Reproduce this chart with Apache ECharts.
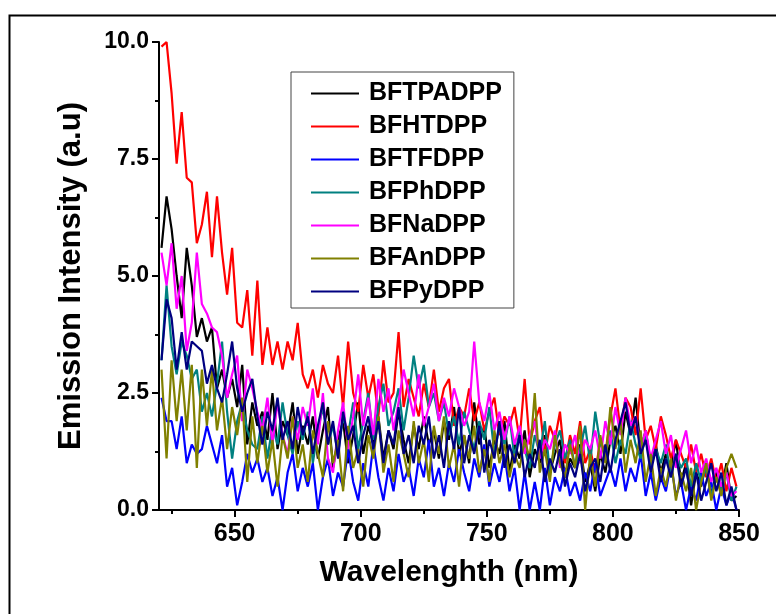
<!DOCTYPE html>
<html>
<head>
<meta charset="utf-8">
<script src="https://cdn.jsdelivr.net/npm/echarts@6/dist/echarts.min.js"></script>
<style>
  html, body { margin: 0; padding: 0; background: #fff; }
  #chart { width: 776px; height: 614px; }
</style>
</head>
<body>
<div id="chart"></div>
<script>
// wavelength grid, 2 nm steps from 621 to 849
var wavelength = [];
for (var w = 621; w <= 849; w += 2) wavelength.push(w);

var names = ['BFTPADPP', 'BFHTDPP', 'BFTFDPP', 'BFPhDPP', 'BFNaDPP', 'BFAnDPP', 'BFPyDPP'];
var colors = ['#000000', '#ff0000', '#0000ff', '#008080', '#ff00ff', '#808000', '#000080'];

var xMajor = [650, 700, 750, 800, 850];
var xMinor = [625, 675, 725, 775, 825];

var bftpadpp = [
  5.6, 6.7, 6.0, 5.0, 4.1, 5.6, 4.8, 3.7, 4.1, 3.6,
  3.9, 2.6, 3.0, 2.4, 2.8, 2.2, 3.1, 1.4, 2.3, 1.8,
  2.1, 1.5, 2.5, 1.3, 1.9, 1.6, 2.3, 1.2, 1.8, 1.4,
  2.0, 1.1, 1.7, 2.2, 0.9, 1.5, 1.9, 1.0, 1.6, 2.3,
  1.2, 1.8, 1.4, 2.0, 1.1, 1.7, 1.3, 2.1, 1.5, 1.0,
  1.8, 1.3, 2.0, 1.4, 1.7, 1.1, 1.9, 1.5, 2.2, 1.2,
  1.6, 1.0, 2.3, 1.4, 1.8, 0.9, 1.5, 1.2, 1.9, 0.8,
  1.4, 1.1, 1.7, 0.7, 1.3, 1.0, 1.6, 0.8, 1.2, 1.5,
  0.7, 1.1, 0.9, 1.4, 0.6, 1.0, 0.4, 1.2, 0.8, 1.5,
  1.8, 1.2, 2.1, 1.6, 2.4, 1.3, 1.7, 1.0, 1.4, 0.8,
  1.2, 0.9, 1.5, 0.6, 1.0, 0.1, 0.8, 0.5, 1.0, 0.3,
  0.8, 0.4, 1.0, 0.2, 0.3
];
var bfhtdpp = [
  9.9, 10.0, 8.9, 7.4, 8.5, 7.1, 7.0, 5.7, 6.1, 6.8,
  5.4, 6.7, 5.5, 4.6, 5.6, 4.0, 3.9, 4.7, 3.3, 4.9,
  3.1, 3.9, 3.1, 3.6, 3.0, 3.6, 3.2, 4.0, 2.9, 2.6,
  3.0, 2.4, 3.1, 2.7, 2.5, 3.3, 2.2, 3.6, 2.5, 2.1,
  3.1, 2.4, 2.9, 2.0, 3.2, 2.3, 2.5, 3.8, 2.2, 2.8,
  2.4, 2.0, 2.7, 2.2, 3.0, 2.1, 2.6, 2.8, 1.8, 2.2,
  2.0, 2.6, 1.9, 2.3, 1.7, 2.1, 2.4, 1.6, 2.0, 1.8,
  2.2, 1.5, 2.8, 1.4, 1.9, 2.2, 1.2, 1.8, 1.5, 2.1,
  1.0, 1.6, 1.2, 1.9, 1.0, 1.3, 0.8, 1.5, 1.2, 2.0,
  2.6, 1.7, 2.4, 2.2, 1.6, 2.6, 1.5, 1.8, 1.3, 2.0,
  1.6, 1.1, 1.5, 1.2, 0.9, 1.4, 0.8, 1.2, 0.7, 1.1,
  0.6, 1.0, 0.4, 0.9, 0.5
];
var bftfdpp = [
  2.4, 1.9, 1.9, 1.3, 2.0, 1.0, 1.4, 1.2, 1.3, 1.8,
  1.4, 1.0, 1.6, 0.5, 0.9, 0.1, 0.6, 1.2, 0.8, 1.1,
  0.6, 0.9, 0.3, 0.7, 0.0, 0.8, 1.2, 0.4, 0.9, 0.5,
  1.0, 0.0, 0.7, 1.1, 0.3, 0.8, 0.5, 1.3, 0.6, 0.2,
  1.0, 0.5, 1.4, 0.7, 0.2, 0.9, 0.4, 1.2, 0.6, 0.9,
  0.3, 1.1, 0.7, 1.5, 0.5, 0.9, 0.3, 1.0, 0.6, 1.3,
  0.8, 0.4, 1.1, 0.7, 1.4, 0.5, 1.0, 0.6, 1.2, 0.4,
  0.9, 0.0, 0.8, 0.0, 0.6, 0.0, 0.9, 0.1, 0.7, 0.4,
  0.9, 0.3, 0.6, 0.2, 0.8, 0.4, 1.0, 0.3, 0.6, 0.9,
  0.5, 1.1, 0.4, 0.9, 0.6, 1.2, 0.3, 0.8, 0.2, 0.7,
  0.4, 1.0, 0.3, 0.6, 0.0, 0.5, 0.2, 0.8, 0.3, 0.6,
  0.0, 0.5, 0.1, 0.4, 0.0
];
var bfphdpp = [
  3.2, 4.8, 3.5, 2.9, 3.6, 3.3, 2.8, 3.0, 2.1, 2.5,
  2.0, 2.7, 3.6, 2.1, 1.1, 1.9, 2.3, 1.7, 1.4, 1.3,
  2.0, 1.1, 1.8, 1.4, 2.3, 1.6, 1.2, 1.9, 1.5, 2.1,
  1.0, 1.7, 2.2, 1.4, 1.8, 1.2, 2.0, 1.6, 2.3, 1.3,
  1.9, 2.5, 1.5, 2.2, 2.7, 1.8, 2.1, 2.6, 1.7, 2.4,
  3.3, 2.6, 3.1, 2.2, 2.5, 1.9, 2.3, 1.6, 2.0, 1.4,
  2.1, 1.7, 1.3, 1.9, 1.5, 2.2, 1.2, 1.8, 1.4, 2.0,
  1.1, 1.7, 1.3, 0.9, 1.6, 1.2, 1.9, 0.8, 1.4, 1.7,
  1.1, 1.5, 0.9, 1.3, 1.8, 1.0, 2.1, 1.4, 1.2, 1.7,
  1.0, 1.5, 1.2, 1.9, 1.4, 1.1, 1.6, 0.9, 1.3, 1.0,
  1.4, 0.7, 1.2, 0.9, 1.1, 0.5, 1.0, 0.6, 0.9, 0.3,
  0.7, 0.4, 0.8, 0.2, 0.5
];
var bfnadpp = [
  5.5, 4.8, 5.7, 4.3, 5.0, 3.4, 4.0, 5.5, 4.4, 4.2,
  3.9, 3.8, 3.3, 2.4, 2.9, 3.3, 1.9, 3.0, 2.6, 2.1,
  1.7, 2.4, 1.4, 2.3, 1.6, 1.2, 2.0, 1.5, 2.2, 1.8,
  2.6, 1.4, 2.5, 1.1, 0.8, 1.7, 2.3, 1.3, 2.0, 2.9,
  1.8, 2.4, 1.6, 2.8, 2.1, 2.6, 1.7, 2.3, 3.0, 2.5,
  2.0, 2.9, 1.8, 2.2, 2.7, 1.9, 2.4, 2.0, 2.6, 2.2,
  1.8, 2.1, 3.6, 2.3, 1.9, 2.5, 1.7, 2.1, 1.5, 2.0,
  1.4, 1.8, 1.2, 1.6, 1.9, 1.1, 1.5, 1.3, 1.7, 0.9,
  1.4, 1.2, 1.6, 1.0, 1.5, 1.3, 1.7, 1.1, 1.9, 1.4,
  2.2, 1.6, 2.4, 1.8, 2.0, 1.3, 1.7, 1.1, 1.5, 1.9,
  1.2, 1.6, 0.9, 1.3, 1.7, 1.0, 1.4, 0.8, 1.1, 0.6,
  0.9, 0.5, 0.8, 0.3, 0.4
];
var bfandpp = [
  3.0, 1.1, 3.2, 1.9, 3.0, 1.7, 3.1, 0.9, 3.0, 1.8,
  3.0, 1.7, 2.4, 1.3, 2.2, 1.6, 2.4, 0.6, 2.0, 1.0,
  1.8, 0.8, 1.5, 0.5, 1.6, 1.1, 2.0, 0.9, 1.4, 0.6,
  1.7, 1.2, 0.7, 1.9, 1.0, 1.5, 0.4, 1.8, 0.9, 1.3,
  0.5, 1.6, 1.1, 2.0, 0.8, 1.4, 0.6, 1.7, 1.2, 0.7,
  1.9, 1.0, 1.5, 0.6, 1.8, 1.2, 2.0, 0.9, 1.4, 0.5,
  1.6, 1.1, 1.8, 0.8, 1.3, 0.6, 1.7, 1.0, 1.4, 0.7,
  1.2, 0.9, 1.5, 1.1, 2.5, 0.8, 1.3, 0.6, 1.6, 1.0,
  0.7, 1.4, 0.9, 1.8, 0.0, 1.2, 0.5, 1.6, 1.0, 2.2,
  1.3, 1.9, 0.8, 1.5, 1.0, 1.7, 0.6, 1.2, 0.3, 0.9,
  0.5, 1.1, 0.2, 0.8, 0.4, 0.9, 0.0, 0.6, 1.0, 0.2,
  0.7, 0.3, 0.9, 1.2, 0.9
];
var bfpydpp = [
  3.2, 4.5, 4.1, 3.0, 3.8, 3.0, 3.6, 3.5, 3.4, 2.7,
  3.1, 2.6, 2.3, 2.9, 3.6, 2.6, 2.1, 2.5, 2.8, 2.0,
  1.4, 2.1, 1.7, 2.4, 1.5, 1.9, 1.3, 2.2, 1.6, 2.0,
  1.2, 1.8, 2.3, 1.4, 1.9, 1.1, 2.1, 1.5, 1.8, 1.0,
  1.6, 2.0, 1.3, 1.9, 1.0, 1.7, 1.4, 2.2, 1.2, 1.6,
  1.0, 1.8, 1.4, 2.0, 1.1, 1.6, 0.9, 1.9, 1.3, 2.2,
  1.0, 1.6, 1.2, 1.8, 0.8, 1.5, 1.1, 1.9, 0.9, 1.4,
  1.0, 1.6, 0.7, 1.2, 0.9, 1.5, 0.6, 1.1, 0.8, 1.3,
  0.5, 1.0, 0.7, 1.2, 0.4, 0.9, 1.1, 0.6, 1.4, 0.8,
  1.5, 1.9, 2.3, 1.6, 2.0, 1.2, 1.5, 0.8, 1.3, 0.6,
  1.1, 0.7, 1.2, 0.5, 0.9, 0.3, 0.8, 0.2, 0.6, 1.0,
  0.4, 0.8, 0.1, 0.5, 0.0
];

var allData = [bftpadpp, bfhtdpp, bftfdpp, bfphdpp, bfnadpp, bfandpp, bfpydpp];

var FONT = '"Liberation Sans", Arial, sans-serif';

var series = [];
for (var s = 0; s < names.length; s++) {
    var pts = [];
    for (var i = 0; i < wavelength.length; i++) {
        pts.push([wavelength[i], allData[s][i]]);
    }
    series.push({
        name: names[s],
        type: 'line',
        xAxisIndex: 0,
        symbol: 'none',
        data: pts,
        lineStyle: { color: colors[s], width: 2.2 },
        itemStyle: { color: colors[s] }
    });
}

var chart = echarts.init(document.getElementById('chart'));
var option = {
    backgroundColor: '#ffffff',
    animation: false,
    //外框
    graphic: [{
        type: 'rect',
        left: 7, top: 13,
        shape: { width: 820, height: 700 },
        style: { fill: 'none', stroke: '#000', lineWidth: 2 },
        silent: true
    }],
    grid: { left: 159, top: 42, width: 580, height: 468 },
    legend: {
        data: names,
        orient: 'vertical',
        left: 291,
        top: 72,
        padding: [9, 12, 4, 20],
        icon: 'rect',
        itemWidth: 48,
        itemHeight: 2,
        itemGap: 8,
        borderColor: '#444',
        borderWidth: 1,
        textStyle: {
            fontFamily: FONT,
            fontWeight: 'bold',
            fontSize: 25,
            lineHeight: 25,
            color: '#000',
            padding: [0, 0, 0, 5]
        }
    },
    xAxis: [{
        type: 'value',
        min: 620,
        max: 850,
        name: 'Wavelenghth (nm)',
        nameLocation: 'middle',
        nameGap: 48,
        nameTextStyle: { fontFamily: FONT, fontWeight: 'bold', fontSize: 30, color: '#000' },
        axisLine: { lineStyle: { color: '#000', width: 2 } },
        axisTick: { customValues: xMajor, length: 7, lineStyle: { color: '#000', width: 2 } },
        axisLabel: {
            customValues: xMajor,
            margin: 12,
            fontFamily: FONT, fontWeight: 'bold', fontSize: 25, color: '#000'
        },
        splitLine: { show: false }
    }, {
        type: 'value',
        min: 620,
        max: 850,
        position: 'bottom',
        axisLine: { show: false },
        axisTick: { customValues: xMinor, length: 4, lineStyle: { color: '#000', width: 2 } },
        axisLabel: { show: false },
        splitLine: { show: false }
    }],
    yAxis: {
        type: 'value',
        min: 0,
        max: 10,
        interval: 2.5,
        name: 'Emission Intensity (a.u)',
        nameLocation: 'middle',
        nameGap: 72,
        nameTextStyle: { fontFamily: FONT, fontWeight: 'bold', fontSize: 31, color: '#000' },
        axisLine: { show: true, lineStyle: { color: '#000', width: 2 } },
        axisTick: { show: true, length: 7, lineStyle: { color: '#000', width: 2 } },
        minorTick: { show: true, splitNumber: 2, length: 4, lineStyle: { color: '#000', width: 2 } },
        axisLabel: {
            margin: 10,
            fontFamily: FONT, fontWeight: 'bold', fontSize: 23, color: '#000',
            formatter: function (v) { return v.toFixed(1); }
        },
        splitLine: { show: false }
    },
    series: series
};
chart.setOption(option);
</script>
</body>
</html>
